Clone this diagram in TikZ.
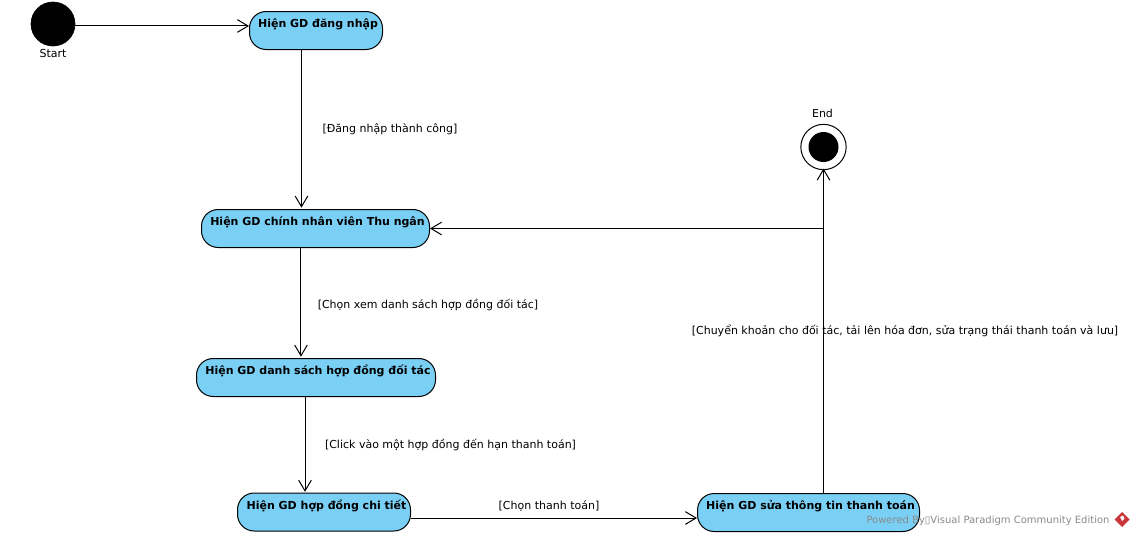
\documentclass[tikz,border=0pt]{standalone}
\usepackage{fontspec}
\setmainfont{DejaVu Sans}
\usetikzlibrary{arrows.meta}
\definecolor{actfill}{HTML}{7ACFF5}
\definecolor{wm}{HTML}{8A8A8A}
\definecolor{logo}{HTML}{C8353A}
\tikzset{
  act/.style={draw=black,fill=actfill,line width=0.75pt,rounded corners=12.5pt,inner sep=0pt,minimum height=28.5pt},
  acttext/.style={font=\bfseries\fontsize{8.25}{10}\selectfont,anchor=north,inner sep=0pt,text height=6.5pt,text depth=1.8pt},
  startdot/.style={circle,fill=black,draw=black,line width=0.5pt,inner sep=0pt,minimum size=33pt},
  endring/.style={circle,fill=white,draw=black,line width=0.75pt,inner sep=0pt,minimum size=34pt},
  enddot/.style={circle,fill=black,inner sep=0pt,minimum size=22.5pt},
  lbl/.style={font=\fontsize{8.25}{10}\selectfont,inner sep=0pt},
  flow/.style={draw=black,line width=0.75pt,-{Straight Barb[length=8pt,width=9.5pt,line width=0.75pt]}},
}
\begin{document}
\begin{tikzpicture}[x=0.75pt,y=-0.75pt]
\useasboundingbox (0,0) rectangle (1134,536);
\fill[white] (0,0) rectangle (1134,536);
\node[startdot] (start) at (53,24) {};
\node[lbl] (startl) at (53,53.5) {Start};
\node[act,minimum width=99.75pt] (n1) at (316,30.5) {};
\node[acttext] (t1) at (318,19) {Hiện GD đăng nhập};
\node[act,minimum width=171pt] (n2) at (315.5,228.5) {};
\node[acttext] (t2) at (317.5,217) {Hiện GD chính nhân viên Thu ngân};
\node[act,minimum width=179.25pt] (n3) at (316,377.5) {};
\node[acttext] (t3) at (318,366) {Hiện GD danh sách hợp đồng đối tác};
\node[act,minimum width=129.75pt] (n4) at (324,512) {};
\node[acttext] (t4) at (326.5,501) {Hiện GD hợp đồng chi tiết};
\node[act,minimum width=166.5pt] (n5) at (808.5,512.5) {};
\node[acttext] (t5) at (810.5,501) {Hiện GD sửa thông tin thanh toán};
\node[endring] (endo) at (823.5,147) {};
\node[enddot] (endi) at (823.5,147) {};
\node[lbl] (endl) at (822.5,113) {End};
\coordinate (j) at (823.5,228.5);
\coordinate (s1) at ([yshift=3.4pt]n1.west);
\coordinate (s4) at ([yshift=-4.5pt]n4.east);
\coordinate (b1) at ([xshift=-10.9pt]n1.south);
\coordinate (b2) at ([xshift=-10.9pt]n2.south);
\coordinate (b3) at ([xshift=-8.25pt]n3.south);
\draw[flow] (start.east |- s1) -- (s1);
\draw[flow] (b1) -- ([yshift=1pt]b1 |- n2.north);
\draw[flow] (b2) -- ([yshift=1pt]b2 |- n3.north);
\draw[flow] (b3) -- ([yshift=0.5pt]b3 |- n4.north);
\draw[flow] (s4) -- (s4 -| n5.west);
\draw[flow,shorten >=-1.2pt] (n5.north -| endo.south) -- (endo.south);
\draw[flow] (j) -- (n2.east);
\node[lbl] (a1) at (390,129) {[Đăng nhập thành công]};
\node[lbl] (a2) at (428,305) {[Chọn xem danh sách hợp đồng đối tác]};
\node[lbl] (a3) at (450.5,445) {[Click vào một hợp đồng đến hạn thanh toán]};
\node[lbl] (a4) at (549,506) {[Chọn thanh toán]};
\node[lbl] (a5) at (905,331) {[Chuyển khoản cho đối tác, tải lên hóa đơn, sửa trạng thái thanh toán và lưu]};
\node[font=\fontsize{7.5}{9}\selectfont,text=wm,inner sep=0pt] (wmark) at (988,520.5) {Powered By▯Visual Paradigm Community Edition};
\fill[logo] (1122,512) -- (1129.5,519.5) -- (1122,527) -- (1114.5,519.5) -- cycle;
\fill[white] (1120,517) -- (1123,515.5) -- (1124.5,518.5) -- (1122,521) -- cycle;
\end{tikzpicture}
\end{document}
